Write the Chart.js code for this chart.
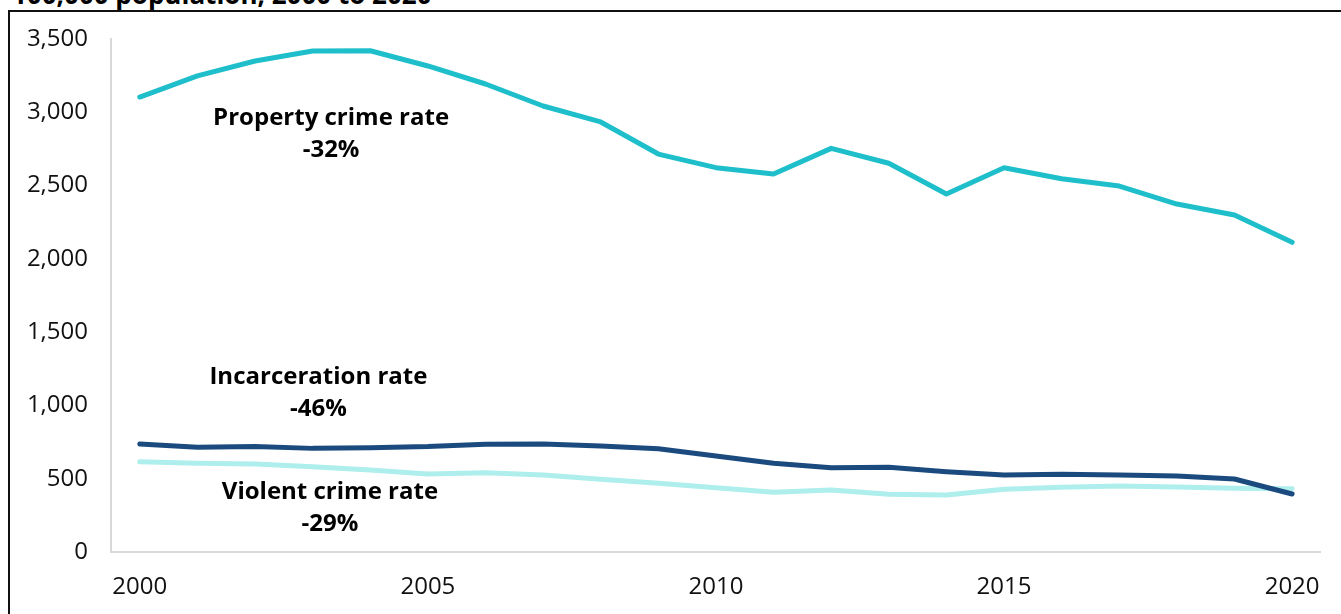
<!DOCTYPE html>
<html>
<head>
<meta charset="utf-8">
<script src="https://cdn.jsdelivr.net/npm/chart.js@4"></script>
<style>
  html, body { margin: 0; padding: 0; background: #fff; overflow: hidden; }
  body { width: 1341px; height: 614px; position: relative; font-family: 'Open Sans', sans-serif; }
  .title {
    position: absolute; left: 12px; top: -21px;
    font-size: 26px; line-height: 30px; font-weight: 700; color: #000; white-space: nowrap;
  }
  .frame {
    position: absolute; left: 8px; top: 10px; width: 1400px; height: 700px;
    border-left: 2px solid #111; border-top: 2px solid #111;
  }
  #crime-linechart { position: absolute; left: 0; top: 0; }
</style>
</head>
<body>
<div class="title">100,000 population, 2000 to 2020</div>
<div class="frame"></div>
<canvas id="crime-linechart" width="1341" height="614"></canvas>
<script>
const years = [
  '2000', '2001', '2002', '2003', '2004', '2005', '2006', '2007', '2008', '2009', '2010',
  '2011', '2012', '2013', '2014', '2015', '2016', '2017', '2018', '2019', '2020',
];
const propertyCrime = [
  3104, 3248, 3350, 3418, 3420, 3316, 3193, 3043, 2934, 2715, 2622,
  2579, 2754, 2652, 2443, 2622, 2547, 2497, 2374, 2299, 2113,
];
const incarceration = [
  737, 714, 719, 707, 712, 719, 735, 737, 723, 705, 655,
  605, 575, 578, 548, 525, 530, 525, 518, 498, 396,
];
const violentCrime = [
  616, 606, 600, 582, 559, 532, 541, 525, 496, 469, 439,
  407, 423, 394, 389, 428, 441, 450, 443, 435, 432,
];
const yTicks = [0, 500, 1000, 1500, 2000, 2500, 3000, 3500];

// text labels next to the lines, anchored at a year index and a value
const notes = [
  { lines: ['Property crime rate', '-32%'], at: 3.32, value: 2959 },
  { lines: ['Incarceration rate', '-46%'], at: 3.1, value: 1196 },
  { lines: ['Violent crime rate', '-29%'], at: 3.3, value: 405 },
];

const lineNotes = {
  id: 'lineNotes',
  afterDatasetsDraw(chart) {
    const { ctx, scales: { x, y } } = chart;
    ctx.save();
    ctx.font = "700 24px 'Open Sans'";
    ctx.fillStyle = '#000';
    ctx.textAlign = 'center';
    ctx.textBaseline = 'middle';
    notes.forEach((n) => {
      const px = x.getPixelForValue(n.at);
      const py = y.getPixelForValue(n.value);
      n.lines.forEach((t, i) => ctx.fillText(t, px, py + i * 32));
    });
    ctx.restore();
  },
};

const tickFont = { family: 'Open Sans', size: 24 };

const ctx = document.getElementById('crime-linechart').getContext('2d');
new Chart(ctx, {
  type: 'line',
  data: {
    labels: years,
    datasets: [
      {
        label: 'Property crime rate',
        data: propertyCrime,
        borderColor: '#1ebfca',
      },
      {
        label: 'Incarceration rate',
        data: incarceration,
        borderColor: '#1b4b7e',
      },
      {
        label: 'Violent crime rate',
        data: violentCrime,
        borderColor: '#aeeeed',
      },
    ],
  },
  options: {
    responsive: false,
    animation: false,
    layout: { padding: { top: 39, right: 19, left: 0, bottom: 0 } },
    elements: {
      line: { borderWidth: 5, tension: 0, borderCapStyle: 'round', borderJoinStyle: 'round' },
      point: { radius: 0 },
    },
    plugins: {
      legend: { display: false },
      tooltip: { enabled: false },
    },
    scales: {
      x: {
        offset: true,
        grid: { display: false, drawTicks: false },
        border: { display: true, color: '#d9d9d9', width: 2 },
        ticks: {
          autoSkip: false,
          maxRotation: 0,
          padding: 21,
          color: '#111',
          font: tickFont,
          callback(v, i) {
            return i % 5 === 0 ? years[i] : null;
          },
        },
        afterFit(scale) {
          scale.height = 62;
        },
      },
      y: {
        min: yTicks[0],
        max: yTicks[yTicks.length - 1],
        grid: { display: false, drawTicks: false },
        border: { display: true, color: '#d9d9d9', width: 2 },
        afterBuildTicks(scale) {
          scale.ticks = yTicks.map((v) => ({ value: v }));
        },
        ticks: {
          padding: 23,
          color: '#111',
          font: tickFont,
          callback(v) {
            return v.toLocaleString('en-US');
          },
        },
        afterFit(scale) {
          scale.width = 111;
        },
      },
    },
  },
  plugins: [lineNotes],
});
</script>
</body>
</html>
